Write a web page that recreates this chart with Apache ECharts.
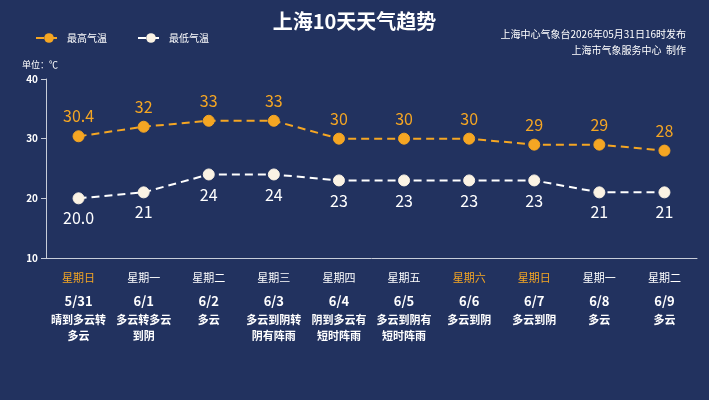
<!DOCTYPE html>
<html><head><meta charset="utf-8">
<script src="https://cdn.jsdelivr.net/npm/echarts@6/dist/echarts.min.js"></script>
<style>html,body{margin:0;padding:0;background:#22325f;}#c{width:709px;height:400px;}</style>
</head><body><div id="c"></div>
<script>
const weekdays = ['星期日', '星期一', '星期二', '星期三', '星期四', '星期五', '星期六', '星期日', '星期一', '星期二'];
const dates = ['5/31', '6/1', '6/2', '6/3', '6/4', '6/5', '6/6', '6/7', '6/8', '6/9'];
const weather = ['晴到多云转多云', '多云转多云到阴', '多云', '多云到阴转阴有阵雨', '阴到多云有短时阵雨', '多云到阴有短时阵雨', '多云到阴', '多云到阴', '多云', '多云'];
const highTemp = ['30.4', 32, 33, 33, 30, 30, 30, 29, 29, 28];
const lowTemp = ['20.0', 21, 24, 24, 23, 23, 23, 23, 21, 21];
const weekend = ['星期六', '星期日'];

const font = '"Noto Sans CJK SC", sans-serif';
// wrap weather text every 5 chars
function wrap(s) {
    const parts = [];
    for (let i = 0; i < s.length; i += 5) parts.push(s.slice(i, i + 5));
    return parts.join('\n');
}
const cats = weekdays.map((w, i) => i);

const chart = echarts.init(document.getElementById('c'));
chart.setOption({
    backgroundColor: '#22325f',
    textStyle: { fontFamily: font },
    title: [
        { text: '上海10天天气趋势', left: 'center', top: 6, textStyle: { color: '#fff', fontSize: 20, fontWeight: 'bold', fontFamily: font } },
        { text: '上海中心气象台2026年05月31日16时发布', right: 18, top: 24,
          textStyle: { color: '#fff', fontSize: 10, fontWeight: 'normal', fontFamily: font } },
        { text: '上海市气象服务中心  制作', right: 18, top: 40,
          textStyle: { color: '#fff', fontSize: 10, fontWeight: 'normal', fontFamily: font } }
    ],
    legend: {
        left: 30, top: 28, itemWidth: 26, itemHeight: 12, itemGap: 30,
        textStyle: { color: '#fff', fontSize: 10 },
        data: ['最高气温', '最低气温']
    },
    grid: { left: 46, right: 12, top: 79, bottom: 142 },
    xAxis: {
        type: 'category', data: cats, boundaryGap: true,
        axisLine: { lineStyle: { color: '#c8cdd9', width: 1 } },
        axisTick: { length: 45, lineStyle: { color: '#c8cdd9' } },
        axisLabel: {
            margin: 8, interval: 0,
            formatter: (v) => {
                const i = +v;
                const wk = weekend.includes(weekdays[i]) ? 'wkend' : 'wk';
                return '{' + wk + '|' + weekdays[i] + '}\n{d|' + dates[i] + '}\n{w|' + wrap(weather[i]) + '}';
            },
            rich: {
                wk: { color: '#fff', fontSize: 11, lineHeight: 24, fontFamily: font },
                wkend: { color: '#f5a623', fontSize: 11, lineHeight: 24, fontFamily: font },
                d: { color: '#fff', fontSize: 13, fontWeight: 'bold', lineHeight: 22, fontFamily: font },
                w: { color: '#fff', fontSize: 11, fontWeight: 'bold', lineHeight: 16, fontFamily: font }
            }
        }
    },
    yAxis: {
        type: 'value', min: 10, max: 40, interval: 10,
        name: '单位：℃', nameGap: 10, nameTextStyle: { color: '#fff', fontSize: 9, align: 'right', padding: [0, -12, 0, 0] },
        axisLine: { show: true, lineStyle: { color: '#c8cdd9' } },
        axisTick: { show: true, length: 5, lineStyle: { color: '#c8cdd9' } },
        axisLabel: { color: '#fff', fontSize: 10, fontWeight: 'bold' },
        splitLine: { show: false }
    },
    series: [
        {
            name: '最高气温', type: 'line', data: highTemp,
            symbol: 'circle', symbolSize: 11,
            lineStyle: { color: '#f5a623', width: 2, type: [8, 5] },
            itemStyle: { color: '#f5a623', borderColor: '#f5a623' },
            label: { show: true, position: 'top', distance: 6, color: '#f5a623', fontSize: 16 }
        },
        {
            name: '最低气温', type: 'line', data: lowTemp,
            symbol: 'circle', symbolSize: 11,
            lineStyle: { color: '#fff', width: 2, type: [8, 5] },
            itemStyle: { color: '#fbf3e4', borderColor: '#fbf3e4' },
            label: { show: true, position: 'bottom', distance: 6, color: '#fff', fontSize: 16 }
        }
    ]
});
</script></body></html>
